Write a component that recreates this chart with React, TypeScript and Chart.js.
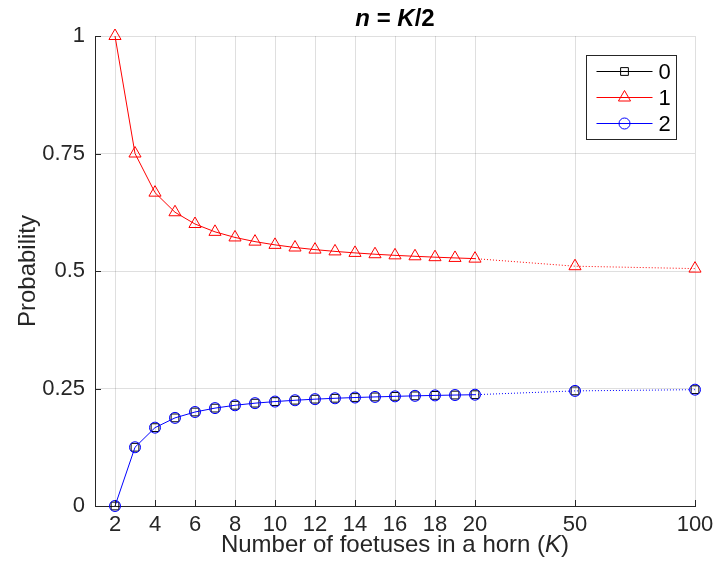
import React, { useEffect, useRef } from 'react';
import { Chart, registerables } from 'chart.js';

Chart.register(...registerables);

// K values (number of foetuses) and their slot on the compressed x axis
const kValues = [2, 3, 4, 5, 6, 7, 8, 9, 10, 11, 12, 13, 14, 15, 16, 17, 18, 19, 20, 50, 100];
const axisSlots = [2, 3, 4, 5, 6, 7, 8, 9, 10, 11, 12, 13, 14, 15, 16, 17, 18, 19, 20, 25, 31];
const tickSlots = [2, 4, 6, 8, 10, 12, 14, 16, 18, 20, 25, 31];
const tickLabels = ['2', '4', '6', '8', '10', '12', '14', '16', '18', '20', '50', '100'];
const yTicks = [0, 0.25, 0.5, 0.75, 1];
const yTickLabels = ['0', '0.25', '0.5', '0.75', '1'];
const seriesNames = ['0', '1', '2'];

const series0 = [0, 0.125, 0.1667, 0.1875, 0.2, 0.2083, 0.2143, 0.2188, 0.2222, 0.225, 0.2273, 0.2292, 0.2308, 0.2321, 0.2333, 0.2344, 0.2353, 0.2361, 0.2368, 0.2449, 0.2475];
const series1 = [1, 0.75, 0.6667, 0.625, 0.6, 0.5833, 0.5714, 0.5625, 0.5556, 0.55, 0.5455, 0.5417, 0.5385, 0.5357, 0.5333, 0.5313, 0.5294, 0.5278, 0.5263, 0.5102, 0.5051];
const series2 = [0, 0.125, 0.1667, 0.1875, 0.2, 0.2083, 0.2143, 0.2188, 0.2222, 0.225, 0.2273, 0.2292, 0.2308, 0.2321, 0.2333, 0.2344, 0.2353, 0.2361, 0.2368, 0.2449, 0.2475];

const FONT = '"Liberation Sans", Arial, Helvetica, sans-serif';
const AXIS_COLOR = '#262626';
const GRID_COLOR = 'rgba(38,38,38,0.15)';
const SOLID_END = 20;

const colors = ['#000000', '#ff0000', '#0000ff'];
const styles = ['rect', 'triangle', 'circle'];
const radii = [5.5, 7, 5.5];
// series 0's line lies exactly beneath series 2's line and is hidden by it
const showLines = [false, true, true];

function drawMarker(ctx: CanvasRenderingContext2D, style: string, x: number, y: number, r: number) {
  ctx.beginPath();
  if (style === 'circle') {
    ctx.arc(x, y, r, 0, Math.PI * 2);
  } else if (style === 'rect') {
    const s = Math.SQRT1_2 * r;
    ctx.rect(x - s, y - s, 2 * s, 2 * s);
  } else {
    let rad = 0;
    ctx.moveTo(x + Math.sin(rad) * r, y - Math.cos(rad) * r);
    rad += (2 * Math.PI) / 3;
    ctx.lineTo(x + Math.sin(rad) * r, y - Math.cos(rad) * r);
    rad += (2 * Math.PI) / 3;
    ctx.lineTo(x + Math.sin(rad) * r, y - Math.cos(rad) * r);
    ctx.closePath();
  }
  ctx.stroke();
}

function drawPieces(ctx: CanvasRenderingContext2D, pieces: { t: string; f: string }[], cx: number, y: number) {
  let total = 0;
  const widths = pieces.map((p) => {
    ctx.font = p.f;
    const w = ctx.measureText(p.t).width;
    total += w;
    return w;
  });
  let x = cx - total / 2;
  ctx.textAlign = 'left';
  pieces.forEach((p, i) => {
    ctx.font = p.f;
    ctx.fillText(p.t, x, y);
    x += widths[i];
  });
}

const decorPlugin = {
  id: 'decor',
  afterDraw(chart: any) {
    const { ctx, chartArea } = chart;
    const xs = chart.scales.x;
    const ys = chart.scales.y;
    ctx.save();

    // inward tick marks
    ctx.strokeStyle = AXIS_COLOR;
    ctx.lineWidth = 1;
    ctx.beginPath();
    tickSlots.forEach((v) => {
      const px = Math.round(xs.getPixelForValue(v)) + 0.5;
      ctx.moveTo(px, chartArea.bottom);
      ctx.lineTo(px, chartArea.bottom - 6);
    });
    yTicks.forEach((v) => {
      const py = Math.round(ys.getPixelForValue(v)) + 0.5;
      ctx.moveTo(chartArea.left, py);
      ctx.lineTo(chartArea.left + 6, py);
    });
    ctx.stroke();

    // title
    ctx.fillStyle = '#000000';
    ctx.textBaseline = 'alphabetic';
    const cx = (chartArea.left + chartArea.right) / 2;
    drawPieces(
      ctx,
      [
        { t: 'n', f: `italic bold 24px ${FONT}` },
        { t: ' = ', f: `bold 24px ${FONT}` },
        { t: 'K', f: `italic bold 24px ${FONT}` },
        { t: '/2', f: `bold 24px ${FONT}` },
      ],
      cx,
      chartArea.top - 10
    );

    // x axis title
    ctx.fillStyle = AXIS_COLOR;
    drawPieces(
      ctx,
      [
        { t: 'Number of foetuses in a horn (', f: `24px ${FONT}` },
        { t: 'K', f: `italic 24px ${FONT}` },
        { t: ')', f: `24px ${FONT}` },
      ],
      cx,
      chartArea.bottom + 46
    );

    // y axis title
    ctx.save();
    ctx.translate(chartArea.left - 67, (chartArea.top + chartArea.bottom) / 2);
    ctx.rotate(-Math.PI / 2);
    ctx.font = `24px ${FONT}`;
    ctx.textAlign = 'center';
    ctx.textBaseline = 'middle';
    ctx.fillText('Probability', 0, 0);
    ctx.restore();

    // legend
    const bw = 90;
    const bh = 84;
    const bx = Math.round(chartArea.right - 19 - bw) + 0.5;
    const by = Math.round(chartArea.top + 19) + 0.5;
    ctx.fillStyle = '#ffffff';
    ctx.fillRect(bx, by, bw, bh);
    ctx.strokeStyle = AXIS_COLOR;
    ctx.lineWidth = 1;
    ctx.strokeRect(bx, by, bw, bh);
    chart.data.datasets.forEach((ds: any, i: number) => {
      const ry = by + 16 + i * 26;
      ctx.strokeStyle = ds.pointBorderColor;
      ctx.lineWidth = 1;
      ctx.beginPath();
      ctx.moveTo(bx + 10, ry);
      ctx.lineTo(bx + 66, ry);
      ctx.stroke();
      drawMarker(ctx, ds.pointStyle, bx + 38, ry, ds.pointRadius);
      ctx.fillStyle = '#000000';
      ctx.font = `22px ${FONT}`;
      ctx.textAlign = 'left';
      ctx.textBaseline = 'middle';
      ctx.fillText(ds.label, bx + 72, ry + 1);
    });
    ctx.restore();
  },
};

export default function App() {
  const canvasRef = useRef<HTMLCanvasElement | null>(null);

  useEffect(() => {
    if (!canvasRef.current) return;
    const allSeries = [series0, series1, series2];
    const order = [2, 1, 0];
    const datasets = allSeries.map((s, i) => ({
      label: seriesNames[i],
      data: axisSlots.map((x, j) => ({ x, y: s[j], k: kValues[j] })),
      borderColor: colors[i],
      backgroundColor: 'rgba(0,0,0,0)',
      pointBackgroundColor: 'rgba(0,0,0,0)',
      pointBorderColor: colors[i],
      pointStyle: styles[i],
      pointRadius: radii[i],
      pointBorderWidth: 1,
      borderWidth: 1,
      showLine: showLines[i],
      tension: 0,
      fill: false,
      clip: false as any,
      order: order[i],
      segment: {
        borderDash: (c: any) => (c.p0.parsed.x >= SOLID_END ? [1, 2] : undefined),
      },
    }));

    const chart = new Chart(canvasRef.current, {
      type: 'line',
      data: { datasets },
      options: {
        animation: false,
        responsive: false,
        events: [],
        layout: { padding: { top: 36, right: 18, left: 0, bottom: 0 } },
        plugins: {
          legend: { display: false },
          title: { display: false },
          tooltip: { enabled: false },
        },
        scales: {
          x: {
            type: 'linear',
            min: 1,
            max: 31,
            afterBuildTicks: (s: any) => {
              s.ticks = tickSlots.map((v) => ({ value: v }));
            },
            afterFit: (s: any) => {
              s.height = 68;
              s.paddingLeft = 0;
              s.paddingRight = 0;
            },
            ticks: {
              autoSkip: false,
              maxRotation: 0,
              padding: 6,
              color: AXIS_COLOR,
              font: { family: FONT, size: 22 },
              callback: (v: any) => {
                const i = tickSlots.indexOf(Number(v));
                return i >= 0 ? tickLabels[i] : '';
              },
            },
            grid: { color: GRID_COLOR, drawTicks: false, lineWidth: 1 },
            border: { color: AXIS_COLOR, width: 1 },
          },
          y: {
            type: 'linear',
            min: 0,
            max: 1,
            afterBuildTicks: (s: any) => {
              s.ticks = yTicks.map((v) => ({ value: v }));
            },
            afterFit: (s: any) => {
              s.width = 95;
              s.paddingTop = 0;
              s.paddingBottom = 0;
            },
            ticks: {
              padding: 10,
              color: AXIS_COLOR,
              font: { family: FONT, size: 22 },
              callback: (v: any) => {
                const i = yTicks.indexOf(Number(v));
                return i >= 0 ? yTickLabels[i] : '';
              },
            },
            grid: { color: GRID_COLOR, drawTicks: false, lineWidth: 1 },
            border: { color: AXIS_COLOR, width: 1 },
          },
        },
      },
      plugins: [decorPlugin],
    });

    return () => chart.destroy();
  }, []);

  return (
    <div style={{ position: 'absolute', left: 0, top: 0, width: 713, height: 574, background: '#ffffff' }}>
      <canvas ref={canvasRef} width={713} height={574} style={{ display: 'block' }} />
    </div>
  );
}
